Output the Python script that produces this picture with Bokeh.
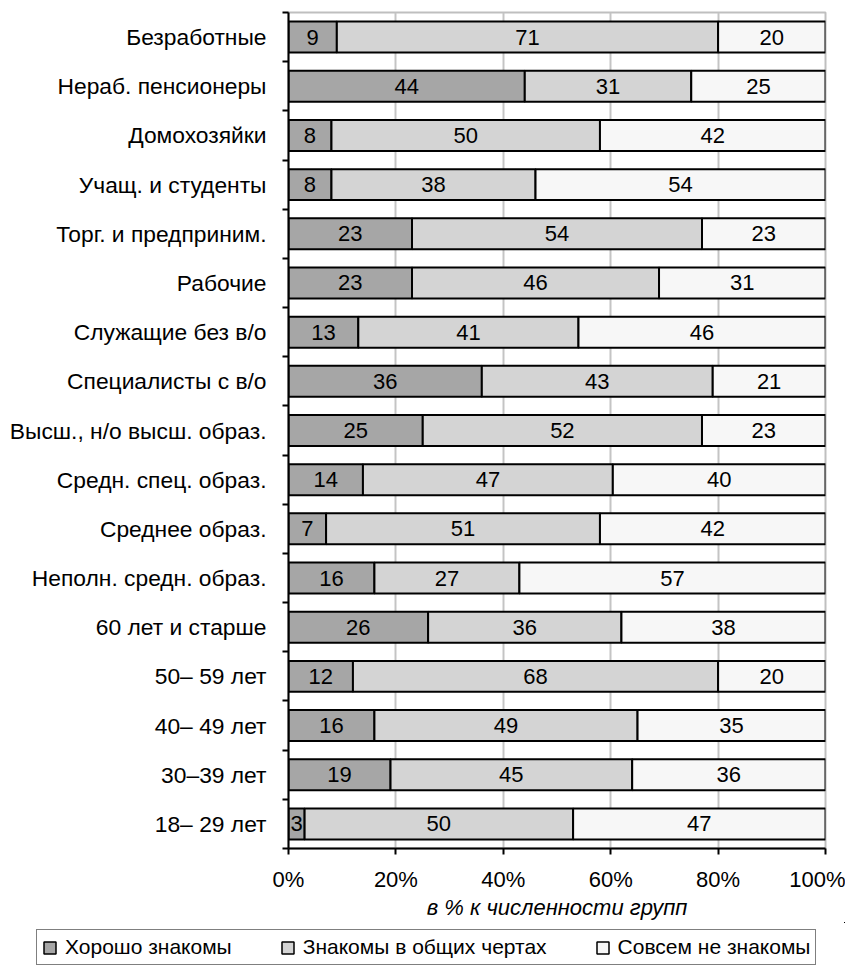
import numpy as np
from bokeh.plotting import figure
from bokeh.models import (ColumnDataSource, Range1d, FixedTicker, PrintfTickFormatter,
                          Legend, LegendItem)
from bokeh.core.properties import value
from bokeh.embed import file_html
from bokeh.resources import INLINE

# ---- data (top to bottom as in the chart) ----
groups = ["Безработные", "Нераб. пенсионеры", "Домохозяйки", "Учащ. и студенты",
          "Торг. и предприним.", "Рабочие", "Служащие без в/о", "Специалисты с в/о",
          "Высш., н/о высш. образ.", "Средн. спец. образ.", "Среднее образ.",
          "Неполн. средн. образ.", "60 лет и старше", "50– 59 лет", "40– 49 лет",
          "30–39 лет", "18– 29 лет"]
well_known = [9, 44, 8, 8, 23, 23, 13, 36, 25, 14, 7, 16, 26, 12, 16, 19, 3]
general_known = [71, 31, 50, 38, 54, 46, 41, 43, 52, 47, 51, 27, 36, 68, 49, 45, 50]
not_known = [20, 25, 42, 54, 23, 31, 46, 21, 23, 40, 42, 57, 38, 20, 35, 36, 47]
series_names = ["Хорошо знакомы", "Знакомы в общих чертах", "Совсем не знакомы"]
x_ticks = [0, 20, 40, 60, 80, 100]
x_title = "в % к численности групп"

colors = ["#a6a6a6", "#d4d4d4", "#f7f7f7"]
FONT = "Liberation Sans"
FS = "22px"

n = len(groups)
ypos = [n - 1 - i for i in range(n)]          # top group drawn highest
vals = np.array([well_known, general_known, not_known], dtype=float)
totals = vals.sum(axis=0)
shares = vals / totals * 100.0
cum = np.cumsum(shares, axis=0)
centers = cum - shares / 2.0

src = ColumnDataSource(dict(
    y=ypos, group=groups,
    s0=shares[0], s1=shares[1], s2=shares[2],
    c0=centers[0], c1=centers[1], c2=centers[2],
    l0=[str(v) for v in well_known],
    l1=[str(v) for v in general_known],
    l2=[str(v) for v in not_known],
))

W = 845
p = figure(width=W, height=922, title=None,
           y_range=Range1d(-0.5, n - 0.5),
           x_range=Range1d(0, 100),
           output_backend="svg", toolbar_location=None,
           min_border_left=288, min_border_right=W - 825,
           min_border_top=12, min_border_bottom=70)
p.outline_line_color = "#bfbfbf"
p.outline_line_width = 2

renderers = p.hbar_stack(["s0", "s1", "s2"], y="y", height=0.63,
                         fill_color=colors, line_color="black", line_width=2,
                         source=src)

for c, l in (("c0", "l0"), ("c1", "l1"), ("c2", "l2")):
    p.text(x=c, y="y", text=l, source=src, text_align="center",
           text_baseline="middle", text_font=value(FONT), text_font_size=FS,
           text_color="black")

# x axis
xa = p.xaxis[0]
xa.ticker = FixedTicker(ticks=x_ticks)
xa.formatter = PrintfTickFormatter(format="%d%%")
xa.major_tick_out = 6
xa.major_tick_in = 0
xa.minor_tick_line_color = None
xa.axis_line_width = 2
xa.axis_line_color = "black"
xa.major_tick_line_width = 2
xa.major_tick_line_color = "black"
xa.major_label_text_font = FONT
xa.major_label_text_font_size = FS
xa.major_label_text_color = "black"
xa.major_label_standoff = 12
xa.axis_label = x_title
xa.axis_label_text_font = FONT
xa.axis_label_text_font_size = FS
xa.axis_label_text_font_style = "italic"
xa.axis_label_text_color = "black"
xa.axis_label_standoff = 0

p.xgrid.grid_line_color = "#c4c4c4"
p.xgrid.grid_line_width = 2
p.ygrid.grid_line_color = None

# y axis: category labels at centres, minor ticks at the boundaries between groups
ya = p.yaxis[0]
ya.ticker = FixedTicker(ticks=ypos, minor_ticks=[k - 0.5 for k in range(n + 1)])
ya.major_label_overrides = {yv: g for yv, g in zip(ypos, groups)}
ya.major_tick_line_color = None
ya.major_tick_out = 0
ya.major_tick_in = 0
ya.minor_tick_out = 6
ya.minor_tick_in = 0
ya.minor_tick_line_color = "black"
ya.minor_tick_line_width = 2
ya.axis_line_width = 2
ya.axis_line_color = "black"
ya.major_label_standoff = 16
ya.major_label_text_font = FONT
ya.major_label_text_font_size = "22.8px"
ya.major_label_text_color = "black"

# ---- legend strip: a second root below the chart, full-width frame ----
lf = figure(width=W, height=45, title=None, output_backend="svg", toolbar_location=None,
            x_range=Range1d(-2, -1), y_range=Range1d(-2, -1),
            x_axis_location=None, y_axis_location=None,
            min_border_left=0, min_border_right=0, min_border_top=0, min_border_bottom=0)
lf.outline_line_color = None
lf.xgrid.visible = False
lf.ygrid.visible = False
# swatch renderers share the chart's data; the view ranges keep the bars out of sight
swatches = [lf.hbar(y="y", left=0, right=col, height=0.63, source=src,
                    fill_color=c, line_color="black", line_width=1.5)
            for col, c in zip(["s0", "s1", "s2"], colors)]
legend = Legend(items=[LegendItem(label=s, renderers=[r]) for s, r in zip(series_names, swatches)],
                orientation="horizontal", location=(36, 2),
                border_line_color="black", border_line_width=1.5,
                background_fill_color="white", background_fill_alpha=1,
                label_text_font=FONT, label_text_font_size="21px", label_text_color="black",
                label_height=24, glyph_width=15, glyph_height=15, label_standoff=8,
                spacing=48, padding=5, margin=0)
lf.add_layout(legend)

open("out.html", "w").write(file_html([p, lf], INLINE))
